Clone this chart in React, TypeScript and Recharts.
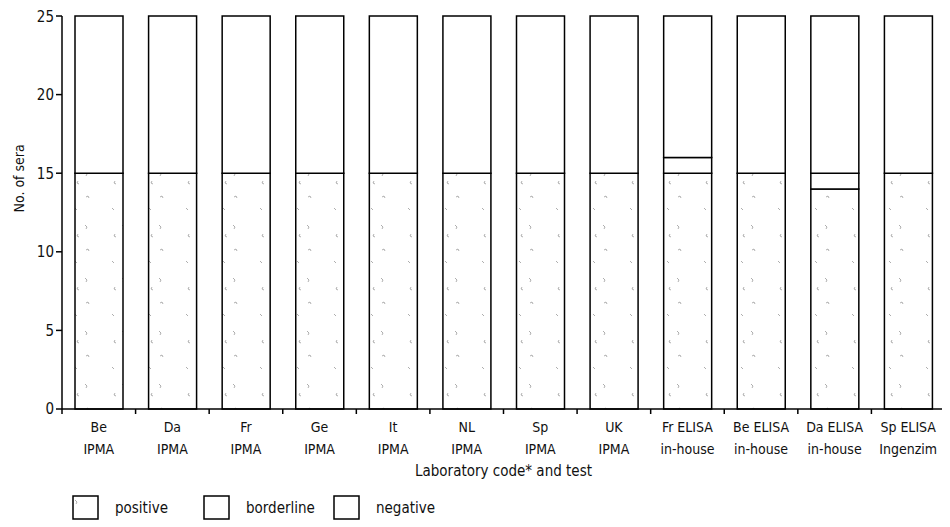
import { BarChart, Bar, XAxis, YAxis, Legend } from 'recharts'

const labs = ['Be', 'Da', 'Fr', 'Ge', 'It', 'NL', 'Sp', 'UK', 'Fr ELISA', 'Be ELISA', 'Da ELISA', 'Sp ELISA']
const tests = ['IPMA', 'IPMA', 'IPMA', 'IPMA', 'IPMA', 'IPMA', 'IPMA', 'IPMA', 'in-house', 'in-house', 'in-house', 'Ingenzim']
const positive = [15, 15, 15, 15, 15, 15, 15, 15, 15, 15, 14, 15]
const borderline = [0, 0, 0, 0, 0, 0, 0, 0, 1, 0, 1, 0]
const negative = [10, 10, 10, 10, 10, 10, 10, 10, 9, 10, 10, 10]
const yTicks = [0, 5, 10, 15, 20, 25]

const data = labs.map((lab, i) => ({
  name: lab + '|' + tests[i],
  positive: positive[i],
  borderline: borderline[i],
  negative: negative[i],
}))

const FONT = '"Liberation Sans Narrow", "DejaVu Sans Condensed", "Roboto", sans-serif'
const W = 942
const H = 519
const LEFT = 54
const RIGHT = 5
const band = (W - LEFT - RIGHT) / labs.length

const XTick = ({ x, y, payload, index }: any) => {
  const [a, b] = String(payload.value).split('|')
  return (
    <g>
      <line x1={x - band / 2} x2={x - band / 2} y1={y - 8} y2={y - 3} stroke="#000" strokeWidth={1.5} />
      {index === labs.length - 1 && (
        <line x1={x + band / 2} x2={x + band / 2} y1={y - 8} y2={y - 3} stroke="#000" strokeWidth={1.5} />
      )}
      <text x={x} y={y + 15} textAnchor="middle" fontSize={14} fill="#111" fontFamily={FONT}>{a}</text>
      <text x={x} y={y + 37} textAnchor="middle" fontSize={14} fill="#111" fontFamily={FONT}>{b}</text>
    </g>
  )
}

const LegendBox = ({ label, pattern, width }: { label: string; pattern?: boolean; width: number }) => (
  <div style={{ display: 'flex', alignItems: 'center', width }}>
    <svg width={27} height={25} style={{ marginRight: 16 }}>
      <rect x={1} y={1} width={25} height={23} fill={pattern ? 'url(#speckle)' : '#fff'} stroke="#000" strokeWidth={1.5} />
    </svg>
    <span style={{ fontSize: 15, fontFamily: FONT, color: '#111' }}>{label}</span>
  </div>
)

const renderLegend = () => (
  <div style={{ display: 'flex', paddingLeft: 64, paddingTop: 9 }}>
    <LegendBox label="positive" pattern width={131} />
    <LegendBox label="borderline" width={130} />
    <LegendBox label="negative" width={120} />
  </div>
)

function App() {
  return (
    <BarChart width={W} height={H} data={data} margin={{ top: 8, right: RIGHT, bottom: 0, left: 0 }}>
      <defs>
        <pattern id="speckle" width="37" height="53" patternUnits="userSpaceOnUse">
          <rect width="37" height="53" fill="#fff" />
          <path d="M3 5 l2 2 l-1 2 M4 30 l2 -1 l1 2 M30 41 l2 2 M33 14 l-1 2 l2 1" stroke="#999" strokeWidth={0.8} fill="none" />
        </pattern>
      </defs>
      <XAxis
        dataKey="name"
        tick={<XTick />}
        tickLine={false}
        axisLine={{ stroke: '#000', strokeWidth: 1.5 }}
        interval={0}
        height={77}
        label={{ value: 'Laboratory code* and test', position: 'insideBottom', offset: 10, fontSize: 15, fill: '#111', fontFamily: FONT }}
      />
      <YAxis
        domain={[0, 25]}
        ticks={yTicks}
        width={LEFT}
        tickSize={6}
        tickLine={{ stroke: '#000', strokeWidth: 1.5 }}
        axisLine={{ stroke: '#000', strokeWidth: 1.5 }}
        tick={{ fontSize: 15, fill: '#111', fontFamily: FONT }}
        label={{ value: 'No. of sera', angle: -90, position: 'insideLeft', offset: 0, fontSize: 14, fill: '#111', fontFamily: FONT, dx: 11 }}
      />
      <Legend verticalAlign="bottom" height={41} content={renderLegend} />
      <Bar dataKey="positive" stackId="a" barSize={48} fill="url(#speckle)" stroke="#000" strokeWidth={1.5} isAnimationActive={false} />
      <Bar dataKey="borderline" stackId="a" barSize={48} fill="#fff" stroke="#000" strokeWidth={1.5} isAnimationActive={false} />
      <Bar dataKey="negative" stackId="a" barSize={48} fill="#fff" stroke="#000" strokeWidth={1.5} isAnimationActive={false} />
    </BarChart>
  )
}

export default App
